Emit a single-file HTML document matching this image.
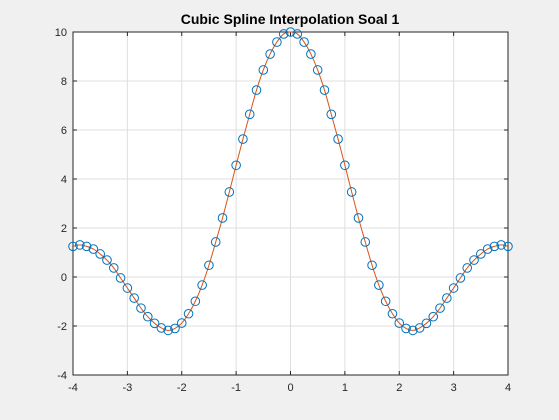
<!DOCTYPE html>
<html><head><meta charset="utf-8"><style>
html,body{margin:0;padding:0;background:#f0f0f0;}
svg{display:block;font-family:"Liberation Sans",Arial,sans-serif;}
</style></head><body>
<svg id="chart" width="559" height="420" viewBox="0 0 559 420">
<rect x="0" y="0" width="559" height="420" fill="#f0f0f0"/>
<text x="290" y="24" text-anchor="middle" font-size="14" font-weight="bold" fill="#000">Cubic Spline Interpolation Soal 1</text>
<rect x="73" y="32" width="435" height="343" fill="#fff"/>
<g id="grid"></g><g id="axes"></g><g id="series"></g>
</svg>
<script>
const xs = [-4,-3.875,-3.75,-3.625,-3.5,-3.375,-3.25,-3.125,-3,-2.875,-2.75,-2.625,-2.5,-2.375,-2.25,-2.125,-2,-1.875,-1.75,-1.625,-1.5,-1.375,-1.25,-1.125,-1,-0.875,-0.75,-0.625,-0.5,-0.375,-0.25,-0.125,0,0.125,0.25,0.375,0.5,0.625,0.75,0.875,1,1.125,1.25,1.375,1.5,1.625,1.75,1.875,2,2.125,2.25,2.375,2.5,2.625,2.75,2.875,3,3.125,3.25,3.375,3.5,3.625,3.75,3.875,4];
const ys = [1.25,1.31,1.25,1.14,0.94,0.69,0.37,-0.04,-0.45,-0.86,-1.27,-1.62,-1.89,-2.08,-2.18,-2.10,-1.88,-1.50,-0.99,-0.33,0.48,1.43,2.41,3.47,4.56,5.63,6.64,7.63,8.45,9.10,9.59,9.92,10.0,9.92,9.59,9.10,8.45,7.63,6.64,5.63,4.56,3.47,2.41,1.43,0.48,-0.33,-0.99,-1.50,-1.88,-2.10,-2.18,-2.08,-1.89,-1.62,-1.27,-0.86,-0.45,-0.04,0.37,0.69,0.94,1.14,1.25,1.31,1.25];
const xTicks = [-4,-3,-2,-1,0,1,2,3,4];
const yTicks = [-4,-2,0,2,4,6,8,10];
const NS='http://www.w3.org/2000/svg';
const L=73,R=508,T=32,B=375;
const sx=v=>L+(v+4)/8*(R-L);
const sy=v=>B-(v+4)/14*(B-T);
function mk(tag,attrs,parent){const e=document.createElementNS(NS,tag);for(const k in attrs)e.setAttribute(k,attrs[k]);parent.appendChild(e);return e;}
const grid=document.getElementById('grid'),axes=document.getElementById('axes'),series=document.getElementById('series');
xTicks.forEach(t=>{
  const g=mk('line',{x1:sx(t),x2:sx(t),y1:T,y2:B,stroke:'#dfdfdf','stroke-width':1},grid);
  
  
  mk('line',{x1:sx(t),x2:sx(t),y1:B,y2:B-4,stroke:'#262626'},axes);
  mk('line',{x1:sx(t),x2:sx(t),y1:T,y2:T+4,stroke:'#262626'},axes);
  const tx=mk('text',{x:sx(t),y:B+16,'text-anchor':'middle','font-size':11,fill:'#262626'},axes);
  tx.textContent=t;
  
  
});
yTicks.forEach(t=>{
  const g=mk('line',{x1:L,x2:R,y1:sy(t),y2:sy(t),stroke:'#dfdfdf','stroke-width':1},grid);
  
  
  mk('line',{x1:L,x2:L+4,y1:sy(t),y2:sy(t),stroke:'#262626'},axes);
  mk('line',{x1:R,x2:R-4,y1:sy(t),y2:sy(t),stroke:'#262626'},axes);
  const tx=mk('text',{x:L-6,y:sy(t)+4,'text-anchor':'end','font-size':11,fill:'#262626'},axes);
  tx.textContent=t;
  
  
});
const box=mk('rect',{x:L,y:T,width:R-L,height:B-T,fill:'none',stroke:'#262626','stroke-width':1},axes);


// smooth spline path (Catmull-Rom)
const P=xs.map((x,i)=>[sx(x),sy(ys[i])]);
let d='M'+P[0][0]+','+P[0][1];
for(let i=0;i<P.length-1;i++){
  const p0=P[Math.max(0,i-1)],p1=P[i],p2=P[i+1],p3=P[Math.min(P.length-1,i+2)];
  const c1=[p1[0]+(p2[0]-p0[0])/6,p1[1]+(p2[1]-p0[1])/6];
  const c2=[p2[0]-(p3[0]-p1[0])/6,p2[1]-(p3[1]-p1[1])/6];
  d+=` C${c1[0]},${c1[1]} ${c2[0]},${c2[1]} ${p2[0]},${p2[1]}`;
}
const line=mk('path',{d:d,fill:'none',stroke:'#d95319','stroke-width':1},series);


xs.forEach((x,i)=>{
  const c=mk('circle',{cx:sx(x),cy:sy(ys[i]),r:4.3,fill:'none',stroke:'#0072bd','stroke-width':1},series);
  
  
});
</script>
</body></html>
